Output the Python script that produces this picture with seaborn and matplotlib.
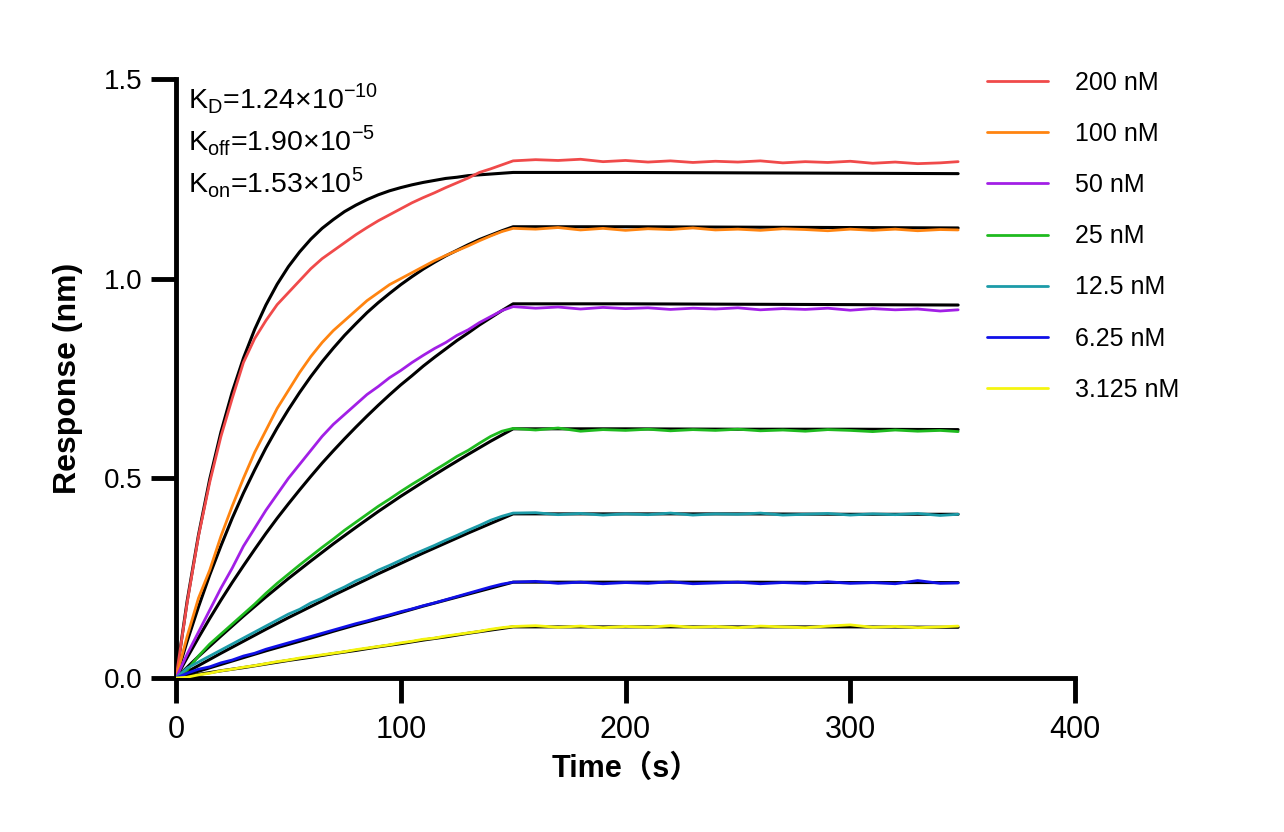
import numpy as np
import pandas as pd
import matplotlib
matplotlib.use("Agg")
import matplotlib.pyplot as plt
import seaborn as sns

# concentrations / colours
conc_labels = ["200 nM", "100 nM", "50 nM", "25 nM", "12.5 nM", "6.25 nM", "3.125 nM"]
conc_colors = ["#F04A4A", "#FF8410", "#A21FE6", "#1FBA1F", "#1C9BA8", "#1010E8", "#F5F510"]

# measured curves: association 0-150 s (5 s), dissociation 160-348 s
time_data = [0, 5, 10, 15, 20, 25, 30, 35, 40, 45, 50, 55, 60, 65, 70, 75, 80, 85, 90, 95,
             100, 105, 110, 115, 120, 125, 130, 135, 140, 145, 150,
             160, 170, 180, 190, 200, 210, 220, 230, 240, 250, 260, 270, 280, 290, 300,
             310, 320, 330, 340, 348]

resp_200 = [0.000, 0.190, 0.355, 0.490, 0.605, 0.700, 0.790, 0.850, 0.895, 0.935, 0.965, 0.995,
            1.025, 1.050, 1.070, 1.090, 1.110, 1.128, 1.145, 1.160, 1.175, 1.190, 1.203, 1.215,
            1.228, 1.240, 1.252, 1.266, 1.275, 1.285, 1.295,
            1.298, 1.296, 1.299, 1.293, 1.296, 1.292, 1.295, 1.291, 1.294, 1.292, 1.295, 1.290,
            1.293, 1.291, 1.294, 1.289, 1.292, 1.288, 1.290, 1.293]
resp_100 = [0.000, 0.105, 0.200, 0.270, 0.355, 0.430, 0.500, 0.565, 0.620, 0.675, 0.720, 0.765,
            0.805, 0.840, 0.870, 0.895, 0.920, 0.945, 0.965, 0.985, 1.000, 1.015, 1.030, 1.045,
            1.058, 1.070, 1.082, 1.095, 1.107, 1.118, 1.126,
            1.124, 1.128, 1.122, 1.126, 1.121, 1.125, 1.123, 1.127, 1.122, 1.124, 1.121, 1.125,
            1.123, 1.120, 1.124, 1.121, 1.124, 1.120, 1.123, 1.122]
resp_50 = [0.000, 0.060, 0.115, 0.170, 0.225, 0.275, 0.330, 0.375, 0.420, 0.460, 0.500, 0.535,
           0.570, 0.605, 0.635, 0.660, 0.685, 0.710, 0.730, 0.752, 0.770, 0.790, 0.808, 0.825,
           0.840, 0.858, 0.872, 0.890, 0.905, 0.920, 0.930,
           0.926, 0.929, 0.924, 0.928, 0.925, 0.927, 0.923, 0.926, 0.924, 0.927, 0.922, 0.925,
           0.923, 0.926, 0.921, 0.925, 0.922, 0.924, 0.919, 0.922]
resp_25 = [0.000, 0.020, 0.055, 0.085, 0.110, 0.135, 0.160, 0.185, 0.212, 0.237, 0.260, 0.283,
           0.305, 0.327, 0.348, 0.370, 0.390, 0.410, 0.430, 0.448, 0.467, 0.485, 0.502, 0.520,
           0.537, 0.555, 0.570, 0.588, 0.605, 0.618, 0.625,
           0.621, 0.626, 0.618, 0.622, 0.620, 0.623, 0.619, 0.622, 0.620, 0.623, 0.619, 0.621,
           0.618, 0.622, 0.620, 0.617, 0.621, 0.618, 0.620, 0.617]
resp_12 = [0.000, 0.025, 0.040, 0.055, 0.070, 0.085, 0.100, 0.115, 0.130, 0.145, 0.160, 0.172,
           0.188, 0.200, 0.215, 0.228, 0.243, 0.255, 0.270, 0.282, 0.295, 0.308, 0.320, 0.332,
           0.345, 0.357, 0.370, 0.382, 0.395, 0.405, 0.413,
           0.414, 0.409, 0.412, 0.408, 0.411, 0.409, 0.413, 0.408, 0.411, 0.410, 0.413, 0.408,
           0.410, 0.412, 0.408, 0.411, 0.409, 0.412, 0.407, 0.410]
resp_6 = [0.000, 0.012, 0.022, 0.028, 0.038, 0.045, 0.055, 0.062, 0.072, 0.080, 0.088, 0.096,
          0.104, 0.112, 0.120, 0.128, 0.136, 0.143, 0.151, 0.158, 0.166, 0.173, 0.181, 0.188,
          0.196, 0.204, 0.212, 0.220, 0.228, 0.235, 0.240,
          0.242, 0.237, 0.240, 0.236, 0.239, 0.237, 0.241, 0.236, 0.238, 0.240, 0.236, 0.239,
          0.237, 0.241, 0.237, 0.239, 0.236, 0.244, 0.237, 0.238]
resp_3 = [0.000, 0.002, 0.008, 0.012, 0.018, 0.022, 0.027, 0.031, 0.036, 0.041, 0.045, 0.050,
          0.054, 0.058, 0.062, 0.066, 0.071, 0.075, 0.079, 0.083, 0.088, 0.092, 0.097, 0.100,
          0.105, 0.109, 0.113, 0.117, 0.122, 0.126, 0.129,
          0.131, 0.127, 0.130, 0.126, 0.129, 0.127, 0.131, 0.127, 0.129, 0.126, 0.130, 0.128,
          0.126, 0.130, 0.133, 0.127, 0.129, 0.126, 0.128, 0.130]

# fitted curves (black)
time_fit5 = [0, 5, 10, 15, 20, 25, 30, 35, 40, 45, 50, 55, 60, 65, 70, 75, 80, 85, 90, 95,
             100, 105, 110, 115, 120, 125, 130, 135, 140, 145, 150, 200, 250, 300, 348]
time_fit10 = [0, 10, 20, 30, 40, 50, 60, 70, 80, 90, 100, 110, 120, 130, 140, 150,
              200, 250, 300, 348]

fit_200 = [0.000, 0.194, 0.358, 0.498, 0.616, 0.716, 0.801, 0.873, 0.934, 0.986, 1.030, 1.067,
           1.099, 1.126, 1.148, 1.168, 1.184, 1.198, 1.210, 1.220, 1.228, 1.235, 1.241, 1.246,
           1.251, 1.254, 1.258, 1.260, 1.262, 1.264, 1.266, 1.266, 1.265, 1.264, 1.263]
fit_100 = [0.000, 0.0925, 0.178, 0.258, 0.331, 0.400, 0.463, 0.521, 0.576, 0.626, 0.672, 0.715,
           0.755, 0.792, 0.826, 0.858, 0.887, 0.915, 0.940, 0.963, 0.985, 1.005, 1.024, 1.041,
           1.057, 1.071, 1.085, 1.098, 1.109, 1.120, 1.130, 1.130, 1.129, 1.128, 1.127]
fit_50 = [0.000, 0.0515, 0.101, 0.149, 0.195, 0.239, 0.281, 0.322, 0.362, 0.400, 0.436, 0.471,
          0.505, 0.538, 0.569, 0.599, 0.628, 0.656, 0.683, 0.709, 0.734, 0.757, 0.781, 0.803,
          0.824, 0.845, 0.864, 0.884, 0.902, 0.920, 0.937, 0.937, 0.936, 0.935, 0.934]
fit_25 = [0.000, 0.054, 0.105, 0.155, 0.203, 0.249, 0.293, 0.336, 0.377, 0.417, 0.455, 0.491,
          0.526, 0.560, 0.593, 0.624, 0.624, 0.623, 0.623, 0.622]
fit_12 = [0.000, 0.031, 0.062, 0.092, 0.122, 0.151, 0.179, 0.207, 0.234, 0.261, 0.287, 0.313,
          0.338, 0.363, 0.387, 0.411, 0.411, 0.411, 0.410, 0.410]
fit_6 = [0.000, 0.017, 0.034, 0.051, 0.068, 0.084, 0.100, 0.117, 0.133, 0.148, 0.164, 0.180,
         0.195, 0.210, 0.225, 0.240, 0.240, 0.240, 0.239, 0.239]
fit_3 = [0.000, 0.009, 0.018, 0.026, 0.035, 0.044, 0.052, 0.061, 0.069, 0.078, 0.086, 0.095,
         0.103, 0.112, 0.120, 0.128, 0.128, 0.128, 0.128, 0.127]

data_series = [resp_200, resp_100, resp_50, resp_25, resp_12, resp_6, resp_3]
fit_series = [(time_fit5, fit_200), (time_fit5, fit_100), (time_fit5, fit_50),
              (time_fit10, fit_25), (time_fit10, fit_12), (time_fit10, fit_6), (time_fit10, fit_3)]

sns.set_style("ticks")
plt.rcParams["font.family"] = ["Liberation Sans", "Noto Sans CJK SC", "DejaVu Sans"]
plt.rcParams["mathtext.fontset"] = "custom"
plt.rcParams["mathtext.rm"] = "Liberation Sans"
for key in ["text.color", "axes.labelcolor", "xtick.color", "ytick.color", "axes.edgecolor"]:
    plt.rcParams[key] = "black"

fig = plt.figure(figsize=(12.84, 8.32), dpi=100)
ax = fig.add_axes([176 / 1284, 1 - 678 / 832, 899 / 1284, 599 / 832])

# long tables for seaborn
df = pd.DataFrame({
    "time": time_data * len(conc_labels),
    "response": sum(data_series, []),
    "conc": np.repeat(conc_labels, len(time_data)),
})
fit_rows = []
for lab, (tt, vv) in zip(conc_labels, fit_series):
    fit_rows.append(pd.DataFrame({"time": tt, "response": vv, "conc": lab}))
df_fit = pd.concat(fit_rows, ignore_index=True)

sns.lineplot(data=df_fit, x="time", y="response", units="conc", estimator=None, sort=False,
             color="black", lw=2.2, ax=ax, legend=False, zorder=2)
sns.lineplot(data=df, x="time", y="response", hue="conc", hue_order=conc_labels,
             palette=conc_colors, estimator=None, sort=False, lw=2.0, ax=ax, zorder=3)

ax.set_xlim(0, 400)
ax.set_ylim(0, 1.5)
ax.set_xticks([0, 100, 200, 300, 400])
ax.set_yticks([0.0, 0.5, 1.0, 1.5])
ax.set_yticklabels(["0.0", "0.5", "1.0", "1.5"])
sns.despine(ax=ax)
for s in ["left", "bottom"]:
    ax.spines[s].set_linewidth(3.5)
ax.tick_params(axis="both", width=3.5, length=18, color="black")
ax.tick_params(axis="x", pad=9, labelsize=22)
ax.tick_params(axis="y", pad=6, labelsize=20)

ax.set_xlabel("Time（s）", fontsize=22, fontweight="bold", labelpad=6)
ax.set_ylabel("Response (nm)", fontsize=23, fontweight="bold", labelpad=15)

fig.text(188 / 1284, 1 - 108 / 832, r"K$_\mathregular{D}$=1.24×10$^\mathregular{-10}$", fontsize=20.5)
fig.text(188 / 1284, 1 - 150 / 832, r"K$_\mathregular{off}$=1.90×10$^\mathregular{-5}$", fontsize=20.5)
fig.text(188 / 1284, 1 - 192 / 832, r"K$_\mathregular{on}$=1.53×10$^\mathregular{5}$", fontsize=20.5)

handles, labels = ax.get_legend_handles_labels()
ax.legend(handles, labels, loc="upper left", bbox_to_anchor=(987 / 1284, 1 - 71 / 832),
          bbox_transform=fig.transFigure, frameon=False, fontsize=18, handlelength=2.44,
          handletextpad=1.08, labelspacing=1.084, borderpad=0, borderaxespad=0)

fig.savefig("out.png", dpi=100)
